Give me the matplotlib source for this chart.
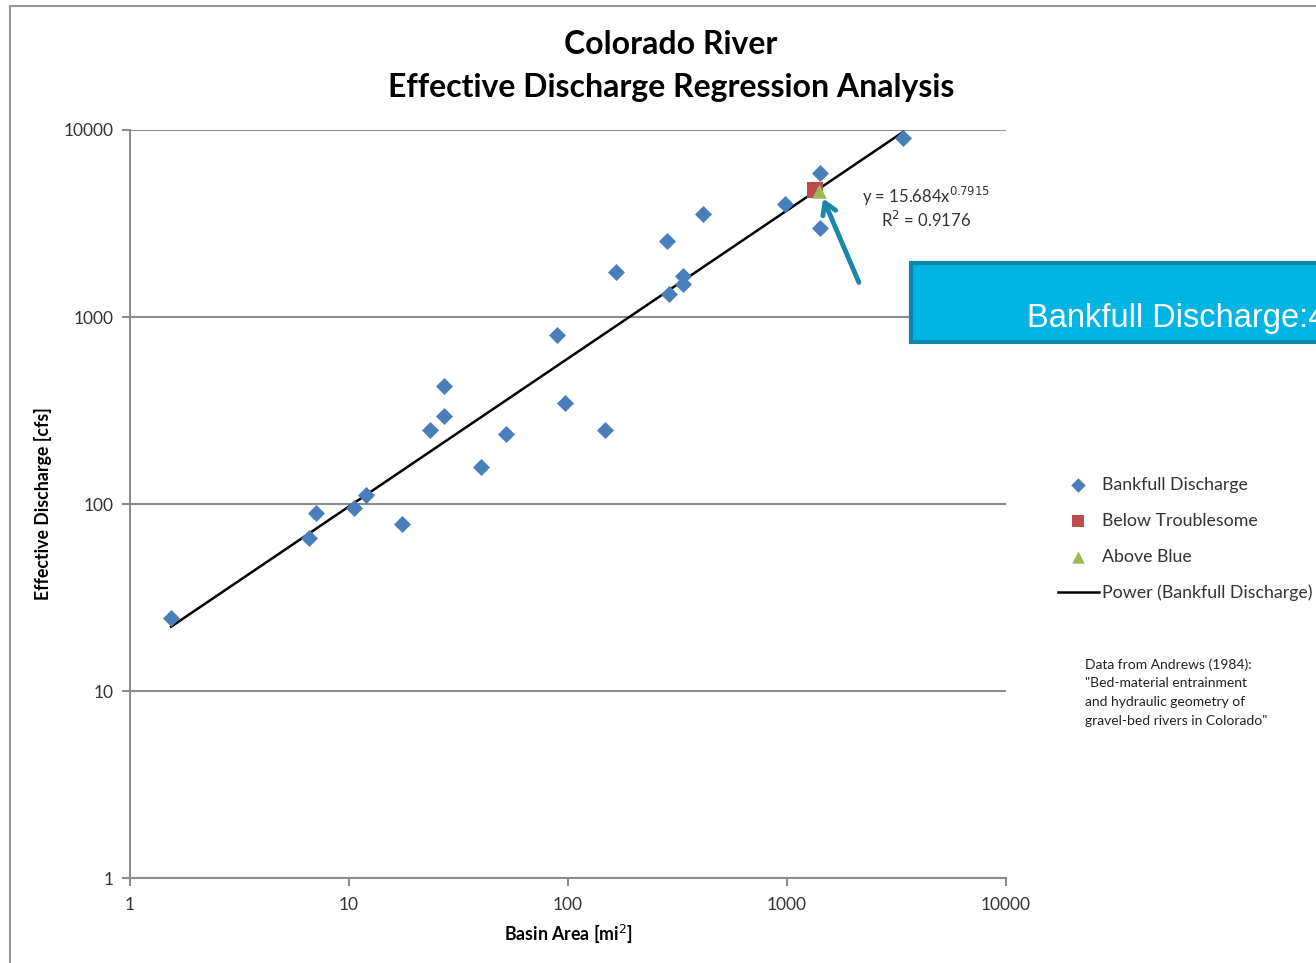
import numpy as np
import matplotlib
matplotlib.use("Agg")
import matplotlib.pyplot as plt
from matplotlib.patches import Rectangle

# basin area [mi^2] and effective discharge [cfs] (Andrews 1984)
area = [1.54, 6.57, 7.07, 10.5, 11.9, 17.5, 23.4, 27.2, 27.2, 40.1, 52.1, 89.1,
        96.9, 147.5, 165.6, 283, 289, 335, 335, 413, 979, 1415, 1415, 3386]
discharge = [24.6, 65.8, 89.5, 95, 112, 78, 249, 296, 428, 158, 237, 801,
             347, 249, 1741, 2547, 1327, 1501, 1657, 3555, 4020, 5890, 2992, 9064]

troublesome_area = [1343]
troublesome_q = [4777]
blue_area = [1400]
blue_q = [4720]

# power fit reported by the trendline
coef = 15.684
expo = 0.7915
r2 = 0.9176

plt.rcParams['font.family'] = ['Lato', 'DejaVu Sans']

fig = plt.figure(figsize=(13.16, 9.63), dpi=100)
ax = fig.add_axes([130 / 1316, 85 / 963, 876 / 1316, 748 / 963])

grid_c = '#8c8c8c'
ax.scatter(area, discharge, marker='D', s=75, color='#4a7ebb', zorder=3,
           label='Bankfull Discharge', linewidths=0)
ax.scatter(troublesome_area, troublesome_q, marker='s', s=120, color='#be4b48',
           zorder=4, label='Below Troublesome', linewidths=0)
ax.scatter(blue_area, blue_q, marker='^', s=110, color='#98b954', zorder=5,
           label='Above Blue', linewidths=0)

xf = np.array([min(area), max(area)])
ax.plot(xf, coef * xf ** expo, color='black', lw=1.8, zorder=2,
        label='Power (Bankfull Discharge)')

ax.set_xscale('log')
ax.set_yscale('log')
ax.set_xlim(1, 10000)
ax.set_ylim(1, 10000)
ticks = [1, 10, 100, 1000, 10000]
ax.set_xticks(ticks)
ax.set_xticklabels([str(t) for t in ticks])
ax.set_yticks(ticks)
ax.set_yticklabels([str(t) for t in ticks])
ax.minorticks_off()
ax.tick_params(axis='both', colors=grid_c, labelcolor='#333333', labelsize=12.5,
               length=6, width=1.5)
ax.tick_params(axis='x', pad=8)
ax.tick_params(axis='y', pad=6)

ax.yaxis.grid(True, color=grid_c, lw=1.5)
ax.set_axisbelow(True)
for side in ['top', 'right']:
    ax.spines[side].set_visible(False)
for side in ['left', 'bottom']:
    ax.spines[side].set_color(grid_c)
    ax.spines[side].set_linewidth(1.5)

ax.set_xlabel('Basin Area [mi$^2$]', fontsize=12.8, fontweight='bold', labelpad=7)
ax.set_ylabel('Effective Discharge [cfs]', fontsize=12.8, fontweight='bold', labelpad=8)

fig.text(671 / 1316, 1 - 44 / 963, 'Colorado River', ha='center', va='center',
         fontsize=23, fontweight='bold')
fig.text(671 / 1316, 1 - 87 / 963, 'Effective Discharge Regression Analysis',
         ha='center', va='center', fontsize=23, fontweight='bold')

# trendline equation
fig.text(862 / 1316, 1 - 196 / 963, 'y = 15.684x$^{0.7915}$', ha='left',
         va='center', fontsize=12, color='#333333')
fig.text(881 / 1316, 1 - 220 / 963, 'R$^2$ = 0.9176', ha='left',
         va='center', fontsize=12, color='#333333')

ax.legend(loc='upper left', bbox_to_anchor=(1058 / 1316, 1 - 477 / 963),
          bbox_transform=fig.transFigure, frameon=False, fontsize=12.8,
          handlelength=2.3, handletextpad=0.2, labelspacing=1.12,
          borderaxespad=0, borderpad=0, markerscale=0.85, labelcolor='#333333')

fig.text(1085 / 1316, 1 - 658 / 963,
         'Data from Andrews (1984):\n"Bed-material entrainment\n'
         'and hydraulic geometry of\ngravel-bed rivers in Colorado"',
         ha='left', va='top', fontsize=10, linespacing=1.68, color='#222222')

# callout box and arrow
fig.patches.append(Rectangle((911 / 1316, 1 - 342 / 963), 420 / 1316, 79 / 963,
                             transform=fig.transFigure, facecolor='#00b4e4',
                             edgecolor='#0c86aa', lw=3, zorder=6))
fig.text(1027 / 1316, 1 - 318 / 963, 'Bankfull Discharge:4800 cfs',
         ha='left', va='center', fontsize=23.5, color='white',
         family=['Liberation Sans', 'DejaVu Sans'], zorder=7)
ax.annotate('', xy=(822 / 1316, 1 - 196 / 963), xytext=(860 / 1316, 1 - 285 / 963),
            xycoords='figure fraction', textcoords='figure fraction',
            arrowprops=dict(arrowstyle='->,head_length=0.8,head_width=0.5',
                            color='#1a87a8', lw=3.5), annotation_clip=False)

# outer border
fig.patches.append(Rectangle((10 / 1316, -0.05), 1.2, 1 - 6 / 963 + 0.05,
                             transform=fig.transFigure, fill=False,
                             edgecolor='#999999', lw=1.5))

fig.savefig('out.png', dpi=100)
